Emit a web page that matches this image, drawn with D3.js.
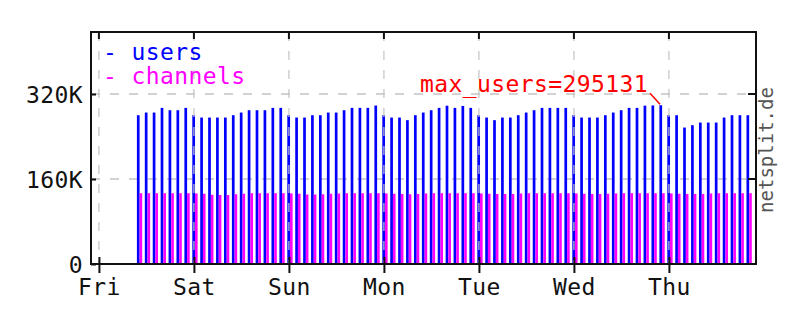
<!DOCTYPE html>
<html><head><meta charset="utf-8">
<script src="https://cdn.jsdelivr.net/npm/d3@7"></script>
<style>
html,body{margin:0;padding:0;background:#fff;}
svg{display:block;}
text{font-family:"DejaVu Sans Mono",monospace;}
</style>
</head><body>
<svg id="chart" width="807" height="325"></svg>
<script>
// ---- data ----
const dayLabels = ["Fri","Sat","Sun","Mon","Tue","Wed","Thu"];
const yTickValues = [0, 160000, 320000];
const yTickLabels = ["0", "160K", "320K"];
const seriesNames = ["users", "channels"];
const seriesColors = ["#0000ff", "#ff00ff"];
const maxLabel = "max_users=295131";
const maxUsers = 295131;
// one sample every 2 hours, Fri 10:00 .. Thu 20:00
const users = [
  276300, 281300, 281300, 290100, 285700, 285700, 290100,
  276300, 271900, 271900, 271900, 271900, 276300, 281300, 285700, 285700, 285700, 290100, 290100,
  276300, 271900, 271900, 276300, 276300, 281300, 281300, 285700, 290100, 290100, 290100, 294500,
  276300, 271900, 271900, 267000, 276300, 281300, 285700, 290100, 294200, 290100, 293800, 290100,
  276300, 271900, 267000, 271900, 271900, 276300, 281300, 285700, 290100, 290100, 290100, 290100,
  276300, 271900, 271900, 271900, 276300, 281300, 285700, 290100, 290100, 294300, 294700, 295131,
  276300, 276300, 253100, 257500, 262500, 262500, 262500, 271900, 276300, 276300, 276300
];
const channels = [
  129500, 129500, 129500, 129500, 129500, 129500, 129500,
  129000, 128500, 126500, 126000, 126000, 127500, 128500, 129500, 129500, 129500, 129500, 129500,
  129000, 128500, 127000, 127000, 127500, 128500, 129000, 129500, 129500, 129500, 129500, 129500,
  129000, 128500, 128000, 127500, 128000, 129000, 129500, 129500, 129500, 129500, 129500, 129500,
  129000, 128500, 128000, 128000, 128000, 129000, 129500, 129500, 129500, 129500, 129500, 129500,
  129000, 128500, 128000, 128000, 128500, 129000, 129500, 129500, 129500, 129500, 129500, 129500,
  129000, 128500, 128000, 128000, 128000, 129000, 129500, 129500, 129500, 129500, 129500
];
const HOUR = 3600 * 1000;
const weekStart = Date.UTC(2009, 0, 2);          // a Friday, 00:00
const firstSample = Date.UTC(2009, 0, 2, 10);    // Fri 10:00
const sampleStepHours = 2;
const yMax = 436700;

// ---- layout ----
const L = 91, R = 756, T = 32, B = 264;
const FS = "23px", LS = "0.4px";
const svg = d3.select("#chart");

const x = d3.scaleUtc()
  .domain([new Date(weekStart - 2 * HOUR), new Date(weekStart + 7 * 24 * HOUR - 2 * HOUR)])
  .range([L, R]);
const y = d3.scaleLinear().domain([0, yMax]).range([B, T]);

const dayDates = dayLabels.map((d, i) => new Date(weekStart + i * 24 * HOUR));
const samples = users.map((u, i) => ({
  t: new Date(firstSample + i * sampleStepHours * HOUR),
  users: u,
  channels: channels[i]
}));

const gridColor = "#c4c4c4";
const dash = "9,10";

// horizontal grid (behind bars)
svg.append("g").selectAll("line").data(yTickValues.filter(v => v > 0)).join("line")
  .attr("x1", L).attr("x2", R)
  .attr("y1", d => y(d)).attr("y2", d => y(d))
  .attr("stroke", gridColor).attr("stroke-width", 1.5).attr("stroke-dasharray", dash);

// bars
const cap = 2;
const gBars = svg.append("g");
gBars.selectAll("rect.u").data(samples).join("rect").attr("class", "u")
  .attr("x", d => x(d.t) - 1.6).attr("width", 2.7)
  .attr("y", d => y(d.users) - cap).attr("height", d => B - y(d.users) + cap)
  .attr("fill", seriesColors[0]);
gBars.selectAll("rect.c").data(samples).join("rect").attr("class", "c")
  .attr("x", d => x(d.t) + 1.1).attr("width", 2.6)
  .attr("y", d => y(d.channels) - cap).attr("height", d => B - y(d.channels) + cap)
  .attr("fill", seriesColors[1]);

// vertical grid (over bars)
svg.append("g").selectAll("line").data(dayDates).join("line")
  .attr("x1", d => x(d)).attr("x2", d => x(d))
  .attr("y1", T).attr("y2", B)
  .attr("stroke", gridColor).attr("stroke-width", 1.2).attr("stroke-dasharray", dash);

// frame
const axisColor = "#111";
svg.append("rect").attr("x", L).attr("y", T).attr("width", R - L).attr("height", B - T)
  .attr("fill", "none").attr("stroke", axisColor).attr("stroke-width", 2);

// x axis (bottom) using d3 axis
const xAxis = svg.append("g").attr("transform", `translate(0,${B})`)
  .call(d3.axisBottom(x).tickValues(dayDates).tickFormat((d, i) => dayLabels[i]).tickSize(9).tickSizeOuter(0));
xAxis.select(".domain").remove();
xAxis.selectAll(".tick line").attr("stroke", axisColor).attr("stroke-width", 2).attr("y1", -7);
xAxis.selectAll(".tick text").attr("font-size", FS).attr("letter-spacing", LS).attr("fill", "#111")
  .attr("font-family", '"DejaVu Sans Mono",monospace').attr("dy", null).attr("y", 31);

// top ticks
svg.append("g").selectAll("line").data(dayDates).join("line")
  .attr("x1", d => x(d)).attr("x2", d => x(d)).attr("y1", T).attr("y2", T + 7)
  .attr("stroke", axisColor).attr("stroke-width", 2);

// y axis (left)
const yAxis = svg.append("g").attr("transform", `translate(${L},0)`)
  .call(d3.axisLeft(y).tickValues(yTickValues).tickFormat((d, i) => yTickLabels[i]).tickSize(8).tickSizeOuter(0));
yAxis.select(".domain").remove();
yAxis.selectAll(".tick line").attr("stroke", axisColor).attr("stroke-width", 2).attr("x2", 5);
yAxis.selectAll(".tick text").attr("font-size", FS).attr("letter-spacing", LS).attr("fill", "#111")
  .attr("font-family", '"DejaVu Sans Mono",monospace').attr("x", -8).attr("dy", "0.36em");

// right ticks (inward)
svg.append("g").selectAll("line").data(yTickValues.filter(v => v > 0)).join("line")
  .attr("x1", R - 8).attr("x2", R).attr("y1", d => y(d)).attr("y2", d => y(d))
  .attr("stroke", axisColor).attr("stroke-width", 2);

// legend
const legend = svg.append("g");
seriesNames.forEach((name, i) => {
  legend.append("text").attr("x", 103).attr("y", 60 + i * 23.5)
    .attr("font-size", FS).attr("letter-spacing", LS).attr("fill", seriesColors[i])
    .text("- " + name);
});

// max label
const maxIdx = users.indexOf(maxUsers);
const mx = x(samples[maxIdx].t), my = y(maxUsers) - cap;
svg.append("text").attr("x", mx - 13).attr("y", my - 13.5)
  .attr("text-anchor", "end").attr("font-size", FS).attr("letter-spacing", LS).attr("fill", "#ff0000")
  .text(maxLabel);
svg.append("line").attr("x1", mx - 11).attr("y1", my - 12).attr("x2", mx - 1).attr("y2", my - 1)
  .attr("stroke", "#ff0000").attr("stroke-width", 1.5);

// watermark
svg.append("text")
  .attr("transform", `translate(773,150) rotate(-90)`)
  .attr("text-anchor", "middle").attr("font-size", "19px").attr("fill", "#555")
  .text("netsplit.de");
</script>
</body></html>
